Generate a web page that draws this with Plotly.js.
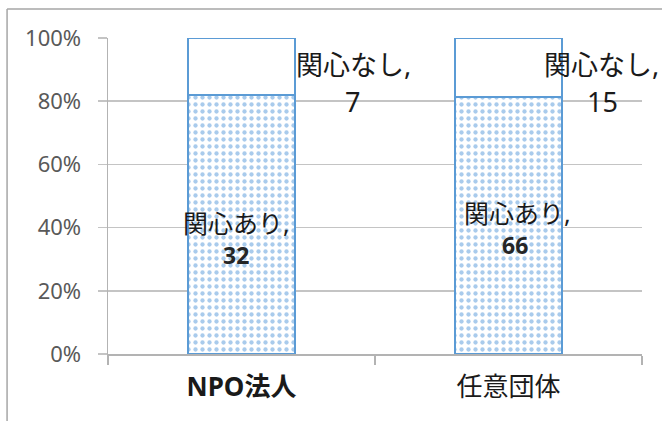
<!DOCTYPE html>
<html>
<head>
<meta charset="utf-8">
<script src="https://cdn.plot.ly/plotly-3.0.1.min.js"></script>
<style>
html,body{margin:0;padding:0;background:#fff;}
#chart{width:662px;height:421px;}
</style>
</head>
<body>
<div id="chart"></div>
<script>
// ---- data ----
const categories = ['NPO法人', '任意団体'];
const seriesNames = ['関心あり', '関心なし'];
const interested = [32, 66];
const notInterested = [7, 15];
const yTickVals = [0, 20, 40, 60, 80, 100];
const yTickText = ['0%', '20%', '40%', '60%', '80%', '100%'];

// ---- label placement (layout only) ----
const insideNamePos = [{dx: -0.017, y: 41.5}, {dx: 0.032, y: 44.7}];
const insideValPos  = [{dx: -0.02,  y: 31.3}, {dx: 0.026, y: 34.5}];
const topNamePos    = [{dx: 0.419,  y: 91.5}, {dx: 0.35,  y: 91.5}];
const topValPos     = [{dx: 0.416,  y: 79.9}, {dx: 0.352, y: 79.9}];

const FONT = '"Noto Sans", "Noto Sans CJK JP", sans-serif';
const BLUE = '#5b9bd5';

const traces = [
  {
    type: 'bar', x: categories, y: interested, name: seriesNames[0],
    marker: {
      color: '#ffffff',
      line: {color: BLUE, width: 2},
      pattern: {shape: '.', fgcolor: '#a9cbec', bgcolor: '#ffffff', size: 7, solidity: 0.3}
    },
    hoverinfo: 'none'
  },
  {
    type: 'bar', x: categories, y: notInterested, name: seriesNames[1],
    marker: {color: '#ffffff', line: {color: BLUE, width: 2}},
    hoverinfo: 'none'
  }
];

const annotations = [];
categories.forEach((c, i) => {
  annotations.push({
    xref: 'x', yref: 'y', x: i + insideNamePos[i].dx, y: insideNamePos[i].y,
    text: seriesNames[0] + ',', showarrow: false,
    font: {family: FONT, size: 25, color: '#1a1a1a'}
  });
  annotations.push({
    xref: 'x', yref: 'y', x: i + insideValPos[i].dx, y: insideValPos[i].y,
    text: '<b>' + interested[i] + '</b>', showarrow: false,
    font: {family: FONT, size: 23, color: '#262626'}
  });
  annotations.push({
    xref: 'x', yref: 'y', x: i + topNamePos[i].dx, y: topNamePos[i].y,
    text: seriesNames[1] + ',', showarrow: false,
    font: {family: FONT, size: 27, color: '#1a1a1a'}
  });
  annotations.push({
    xref: 'x', yref: 'y', x: i + topValPos[i].dx, y: topValPos[i].y,
    text: String(notInterested[i]), showarrow: false,
    font: {family: FONT, size: 27, color: '#1a1a1a'}
  });
});

const layout = {
  width: 662, height: 421,
  margin: {l: 108, r: 20, t: 38, b: 67, pad: 0},
  paper_bgcolor: '#ffffff', plot_bgcolor: '#ffffff',
  barmode: 'stack', barnorm: 'percent', bargap: 0.6,
  showlegend: false,
  font: {family: FONT},
  xaxis: {
    type: 'category', range: [-0.5, 1.5],
    showline: true, linecolor: '#b3b3b3', linewidth: 1.5,
    ticks: 'outside', tickson: 'boundaries', ticklen: 9, tickcolor: '#b3b3b3', tickwidth: 1.5,
    tickfont: {family: FONT, size: 26, color: '#1a1a1a'},
    ticklabelstandoff: 9,
    tickvals: categories,
    ticktext: ['<b>' + categories[0] + '</b>', categories[1]],
    showgrid: false, zeroline: false, fixedrange: true
  },
  yaxis: {
    range: [0, 100], tickvals: yTickVals, ticktext: yTickText,
    showline: true, linecolor: '#b3b3b3', linewidth: 1.5,
    ticks: 'outside', ticklen: 9, tickcolor: '#c4c4c4', tickwidth: 1.5,
    showgrid: true, gridcolor: '#c4c4c4', gridwidth: 1.5,
    tickfont: {family: FONT, size: 22, color: '#595959'},
    ticklabelstandoff: 12,
    zeroline: false, fixedrange: true
  },
  annotations: annotations,
  shapes: [
    {type: 'line', xref: 'paper', yref: 'paper', x0: -0.189, x1: 1.1, y0: 1.092, y1: 1.092,
     line: {color: '#a6a6a6', width: 1.5}},
    {type: 'line', xref: 'paper', yref: 'paper', x0: -0.189, x1: -0.189, y0: -0.3, y1: 1.092,
     line: {color: '#a6a6a6', width: 1.5}}
  ]
};

Plotly.newPlot('chart', traces, layout, {staticPlot: true, displayModeBar: false});
</script>
</body>
</html>
